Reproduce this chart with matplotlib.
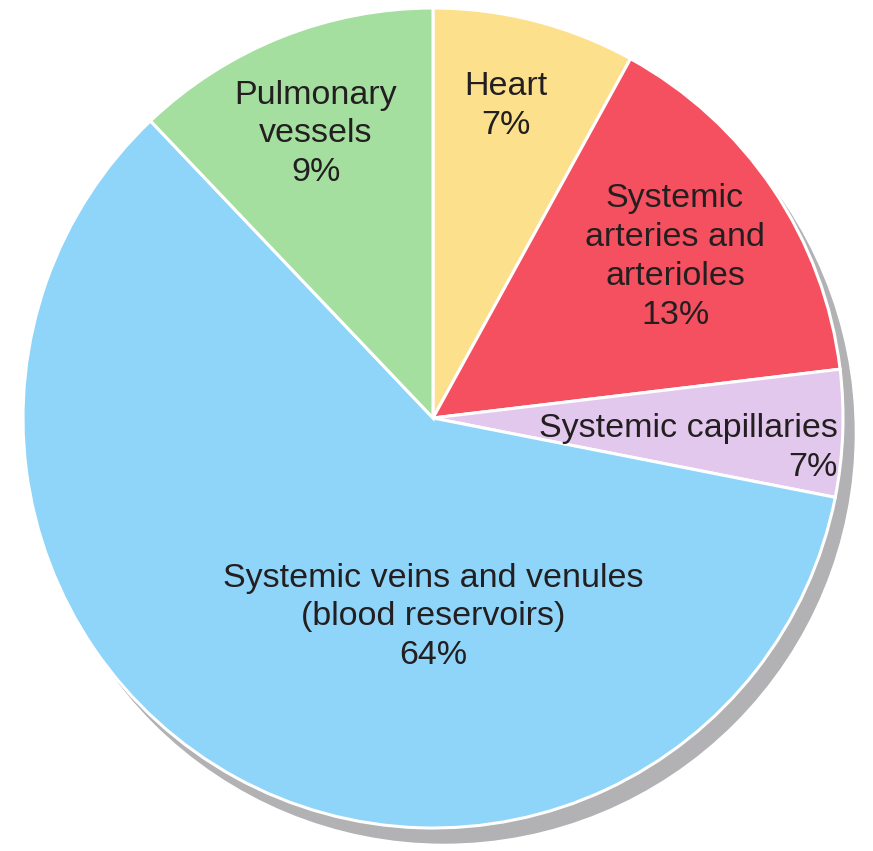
import matplotlib.pyplot as plt
from matplotlib.patches import Circle

names = ['Heart', 'Systemic\narteries and\narterioles', 'Systemic capillaries',
         'Systemic veins and venules\n(blood reservoirs)', 'Pulmonary\nvessels']
shares = [8.0, 15.1, 5.0, 59.8, 12.1]
pct_labels = ['7%', '13%', '7%', '64%', '9%']
colors = ['#fde08b', '#f5505f', '#e3c8ee', '#8fd4f9', '#a4dfa0']

W, H = 873, 851
cx, cy, r = 433, H - 418, 410

fig = plt.figure(figsize=(W / 100, H / 100), dpi=100)
ax = fig.add_axes([0, 0, 1, 1])

# drop shadow
ax.add_patch(Circle((cx + 11, cy - 15), r, color='#b2b1b4', zorder=0))

ax.pie(shares, colors=colors, startangle=90, counterclock=False,
       center=(cx, cy), radius=r, frame=True,
       wedgeprops=dict(edgecolor='white', linewidth=2.2))
ax.set_xlim(0, W)
ax.set_ylim(0, H)
ax.set_aspect('equal')
ax.axis('off')

font = dict(family=['Liberation Sans', 'DejaVu Sans'], fontsize=24.5,
            color='#231f20', linespacing=1.32)
# label anchor spots in pixel coords (x, y from top), alignment
spots = [(506, 106, 'center'), (675, 257, 'center'), (838, 448, 'right'),
         (433, 617, 'center'), (316, 134, 'center')]
for name, pct, (x, y, ha) in zip(names, pct_labels, spots):
    ax.text(x, H - y, name + '\n' + pct, ha=ha, va='center',
            multialignment=ha, **font)

fig.savefig('out.png', dpi=100)
plt.close()
